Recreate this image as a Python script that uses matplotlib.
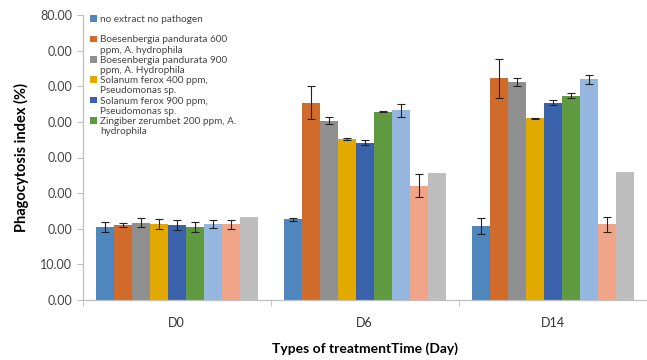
import matplotlib
matplotlib.use("Agg")
import matplotlib.pyplot as plt
import numpy as np
from matplotlib.patches import Patch

days = ["D0", "D6", "D14"]
series = [
    "no extract no pathogen",
    "Boesenbergia pandurata 600\nppm, A. hydrophila",
    "Boesenbergia pandurata 900\nppm, A. Hydrophila",
    "Solanum ferox 400 ppm,\nPseudomonas sp.",
    "Solanum ferox 900 ppm,\nPseudomonas sp.",
    "Zingiber zerumbet 200 ppm, A.\nhydrophila",
    "series 7",
    "series 8",
    "series 9",
]
n_legend = 6  # only the first six series appear in the legend

d0_mean = [20.6, 21.0, 21.7, 21.3, 21.0, 20.5, 21.3, 21.2, 23.4]
d0_err = [1.4, 0.6, 1.2, 1.3, 1.4, 1.3, 1.2, 1.2, 0.0]
d6_mean = [22.6, 55.4, 50.3, 45.2, 44.2, 52.9, 53.2, 32.1, 35.6]
d6_err = [0.5, 4.7, 1.0, 0.3, 0.6, 0.1, 1.9, 3.3, 0.0]
d14_mean = [20.9, 62.2, 61.2, 51.0, 55.4, 57.3, 61.9, 21.2, 36.0]
d14_err = [2.25, 5.4, 1.2, 0.2, 0.8, 0.7, 1.3, 2.1, 0.0]

ytick_values = [0, 10, 20, 30, 40, 50, 60, 70, 80]
ytick_labels = ["0.00", "10.00", "0.00", "0.00", "0.00", "0.00", "0.00", "0.00", "80.00"]

COLORS = ["#4F86BE", "#D06B2B", "#8F8F8F", "#E2A900", "#3A62AA",
          "#5F9A41", "#95B7DF", "#F0A588", "#BEBEBE"]
AXIS_GRAY = "#BFBFBF"

plt.rcParams["font.family"] = ["Lato", "DejaVu Sans"]

means = np.array([d0_mean, d6_mean, d14_mean])  # day x series
errs = np.array([d0_err, d6_err, d14_err])

fig = plt.figure(figsize=(6.47, 3.6), dpi=100)
ax = fig.add_axes([0.1278, 0.1667, 0.8717, 0.7916])

x = np.arange(len(days))
width = 0.0957
for i, color in enumerate(COLORS):
    pos = x + (i - 4) * width
    ax.bar(pos, means[:, i], width=width, color=color, edgecolor="none", zorder=2)
    if errs[:, i].any():
        ax.errorbar(pos, means[:, i], yerr=errs[:, i], fmt="none", ecolor="#222222",
                    elinewidth=0.8, capsize=2.6, capthick=0.8, zorder=3)

ax.set_xlim(-0.5, 2.5)
ax.set_ylim(0, 80)
ax.set_yticks(ytick_values, ytick_labels)
ax.set_xticks(x, days)
ax.set_xticks([-0.5, 0.5, 1.5, 2.5], minor=True)
ax.tick_params(axis="x", which="major", length=0, labelsize=9, pad=12, colors="#333333")
ax.tick_params(axis="x", which="minor", length=4, color=AXIS_GRAY, direction="out")
ax.tick_params(axis="y", length=4, color=AXIS_GRAY, labelsize=9, labelcolor="#444444")

for side in ("top", "right"):
    ax.spines[side].set_visible(False)
for side in ("left", "bottom"):
    ax.spines[side].set_color(AXIS_GRAY)
    ax.spines[side].set_linewidth(0.9)

ax.set_ylabel("Phagocytosis index (%)", fontsize=10.5, fontweight="bold", labelpad=8)
ax.set_xlabel("Types of treatmentTime (Day)", fontsize=10, fontweight="bold", labelpad=10)

# legend: one row per text line so the swatch sits on the first line of each entry
handles, labels = [], []
for i in range(n_legend):
    lines = series[i].split("\n")
    if len(lines) == 1:
        lines.append(" ")
    for k, line in enumerate(lines):
        if k == 0:
            handles.append(Patch(facecolor=COLORS[i], edgecolor="none"))
        else:
            handles.append(Patch(facecolor="none", edgecolor="none"))
        labels.append(line)
leg = ax.legend(handles, labels, loc="upper left", bbox_to_anchor=(0.013, 1.0),
                frameon=False, fontsize=7.2, handlelength=0.65, handleheight=0.65,
                handletextpad=0.35, labelspacing=0.12, borderpad=0, borderaxespad=0)
for t in leg.get_texts():
    t.set_color("#444444")

fig.savefig("out.png", dpi=100, facecolor="white")
